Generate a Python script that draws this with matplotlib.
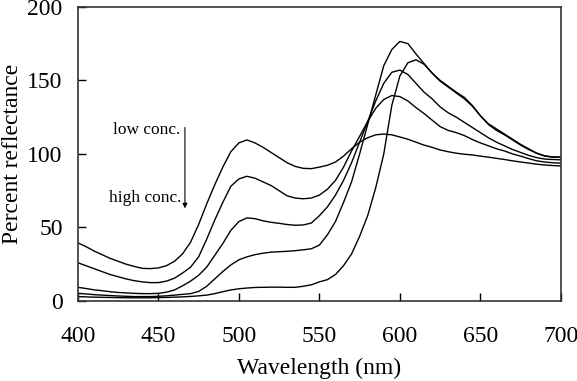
import numpy as np
import matplotlib
matplotlib.use("Agg")
import matplotlib.pyplot as plt

plt.rcParams['font.family'] = ['Liberation Serif', 'DejaVu Serif']

# wavelength grid (nm), 5 nm steps
wavelength = np.arange(400, 701, 5)

# percent reflectance (low -> high concentration)
conc_1 = [39.5, 37, 34, 31.5, 29, 27, 25, 23.5, 22.2, 22, 22.5, 24, 27, 32, 40, 52,
          66, 79, 91, 101.5, 107.5, 109.5, 107.5, 104.5, 101, 97.5, 94, 91.5, 90.2, 90,
          91, 92.3, 94.5, 98.5, 103.5, 108, 111, 113, 113.5, 113, 111.5, 110, 108, 106,
          104.5, 102.7, 101.5, 100.5, 99.8, 99.3, 98.5, 97.8, 97, 96.2, 95.3, 94.5, 93.8,
          93, 92.5, 92.1, 91.8]
conc_2 = [26, 24, 22, 20, 18, 16.5, 15, 13.8, 13, 12.5, 12.5, 13.5, 15.5, 19, 23, 30,
          42, 55, 67, 78, 83, 84.8, 83.5, 81, 78.5, 75, 71.5, 70, 69.5, 70, 72, 76, 82,
          91, 102, 112, 122, 131, 137, 139.7, 139, 136, 131.5, 127.5, 123, 118.6, 116,
          114.5, 112.5, 109.8, 107.5, 105.5, 103.5, 102, 100, 98.5, 96.8, 95.3, 94.5,
          94, 93.7]
conc_3 = [9.3, 8.5, 7.6, 7, 6.3, 5.8, 5.5, 5.2, 5, 5, 5.2, 6, 7.5, 10.3, 13.5, 17.5,
          23, 31, 39, 48, 54, 56.5, 56, 54.5, 53.5, 52.8, 52, 51.5, 51.7, 53, 58, 64,
          72, 82, 94, 108, 122, 136, 148, 155.5, 157, 154, 148, 142, 137.5, 132, 128,
          125, 121.5, 118, 114.5, 111, 108, 105.5, 103, 101, 99, 97.5, 96.5, 96.2, 96]
conc_4 = [5.2, 4.8, 4.3, 4, 3.7, 3.4, 3.2, 3, 3, 3, 3.2, 3.5, 4, 4.5, 5, 6.5, 10, 15,
          20, 24.5, 28, 30, 31.5, 32.5, 33.2, 33.5, 33.8, 34.2, 34.8, 35.5, 38, 45, 54,
          67, 81, 100, 120, 140, 160, 171, 176.5, 175, 168, 161.5, 155, 150, 146, 142,
          138.5, 133, 126, 120.5, 117, 113.5, 110, 106.5, 103.5, 100.5, 98.5, 97.8, 97.7]
conc_5 = [3, 2.8, 2.6, 2.5, 2.4, 2.3, 2.2, 2.2, 2.2, 2.2, 2.3, 2.4, 2.6, 2.8, 3.1, 3.5,
          4, 5, 6.3, 7.5, 8.3, 8.8, 9.2, 9.3, 9.4, 9.4, 9.3, 9.3, 10, 11, 13, 14.5, 18,
          24, 32, 44, 58, 77, 100, 133, 153, 162, 164, 161, 155, 149.5, 145.5, 141.5,
          137.5, 132.5, 126, 120, 116, 113, 109.5, 106, 103, 100.5, 98.7, 98, 97.8]

series = [conc_1, conc_2, conc_3, conc_4, conc_5]

fig = plt.figure(figsize=(5.77, 3.81), dpi=100)
ax = fig.add_axes([0.135, 0.21, 0.837, 0.772])

for s in series:
    ax.plot(wavelength, s, color='black', lw=1.0)

ax.set_xlim(400, 700)
ax.set_ylim(0, 200)
ax.set_xticks([400, 450, 500, 550, 600, 650, 700])
ax.set_yticks([0, 50, 100, 150, 200])
ax.tick_params(direction='in', length=6, width=1, labelsize=17, top=False, right=False)
ax.tick_params(axis='x', pad=18)
ax.tick_params(axis='y', pad=11)
for sp in ax.spines.values():
    sp.set_linewidth(1.2)
    sp.set_color('#333333')

ax.set_xlabel('Wavelength (nm)', fontsize=17, labelpad=8)
ax.set_ylabel('Percent reflectance', fontsize=17, labelpad=3)

# concentration arrow
ax.annotate('', xy=(466.5, 63), xytext=(466.5, 118),
            arrowprops=dict(arrowstyle='-|>', color='black', lw=0.8,
                            mutation_scale=7, shrinkA=0, shrinkB=0))
ax.text(463.5, 116, 'low conc.', ha='right', va='center', fontsize=12.5)
ax.text(464.5, 70, 'high conc.', ha='right', va='center', fontsize=12.5)

fig.savefig('out.png', dpi=100)
